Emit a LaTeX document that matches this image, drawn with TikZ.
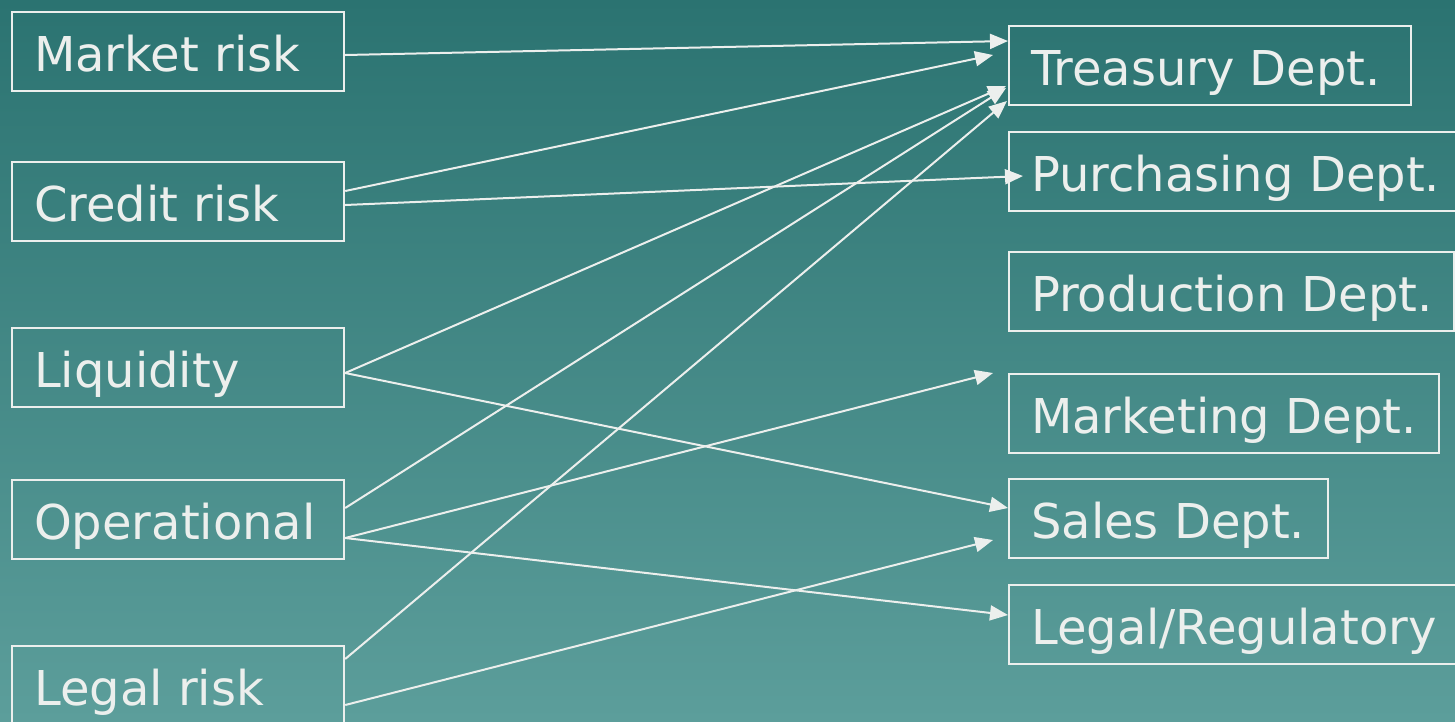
\documentclass[tikz,border=0pt]{standalone}
\usepackage{fontspec}
\setmainfont{DejaVu Sans}
\usetikzlibrary{arrows.meta,calc}
\definecolor{fg}{RGB}{236,239,237}
\definecolor{bgtop}{RGB}{43,115,113}
\definecolor{bgbot}{RGB}{92,158,155}
\newcommand\boxtext[2]{\makebox[#1][l]{#2}}
\tikzset{
  box/.style={draw=fg, line width=2.2pt, text=fg, anchor=north west,
    inner xsep=22pt, inner ysep=10pt, text height=49pt, text depth=10pt,
    font=\fontsize{48}{58}\selectfont},
  link/.style={draw=fg, line width=2pt, -{Triangle[length=18pt,width=15pt]}}
}
\begin{document}
\begin{tikzpicture}[x=1pt,y=-1pt]
\useasboundingbox (0,0) rectangle (1455,721);
\shade[top color=bgtop, bottom color=bgbot] (0,0) rectangle (1455,721);
% left boxes
\node[box] (mkt) at (11,11) {\boxtext{288pt}{Market risk}};
\node[box] (cre) at (11,161) {\boxtext{288pt}{Credit risk}};
\node[box] (liq) at (11,327) {\boxtext{288pt}{Liquidity}};
\node[box] (ope) at (11,479) {\boxtext{288pt}{Operational}};
\node[box] (leg) at (11,645) {\boxtext{288pt}{Legal risk}};
% right boxes
\node[box] (tre) at (1008,25) {\boxtext{358pt}{Treasury Dept.}};
\node[box] (pur) at (1008,131) {\boxtext{416pt}{Purchasing Dept.}};
\node[box] (pro) at (1008,251) {\boxtext{401pt}{Production Dept.}};
\node[box] (mar) at (1008,373) {\boxtext{386pt}{Marketing Dept.}};
\node[box] (sal) at (1008,478) {\boxtext{275pt}{Sales Dept.}};
\node[box] (lr) at (1008,584) {\boxtext{416pt}{Legal/Regulatory}};
% connectors
\draw[link] ($(mkt.north east)+(0,44)$) -- ($(tre.north west)+(0,16)$);
\draw[link] ($(cre.north east)+(0,30)$) -- ($(tre.north west)+(-15,30)$);
\draw[link] ($(cre.north east)+(0,44)$) -- ($(pur.north west)+(15,45)$);
\draw[link] ($(liq.north east)+(0,46)$) -- ($(tre.north west)+(-2,61)$);
\draw[link] ($(liq.north east)+(0,46)$) -- ($(sal.north west)+(0,30)$);
\draw[link] ($(ope.north east)+(0,29)$) -- ($(tre.north west)+(-2,63)$);
\draw[link] ($(ope.north east)+(0,59)$) -- ($(mar.north west)+(-15,0)$);
\draw[link] ($(ope.north east)+(0,59)$) -- ($(lr.north west)+(0,31)$);
\draw[link] ($(leg.north east)+(0,14)$) -- ($(tre.north west)+(-1,76)$);
\draw[link] ($(leg.north east)+(0,60)$) -- ($(sal.north west)+(-15,62)$);
\end{tikzpicture}
\end{document}
